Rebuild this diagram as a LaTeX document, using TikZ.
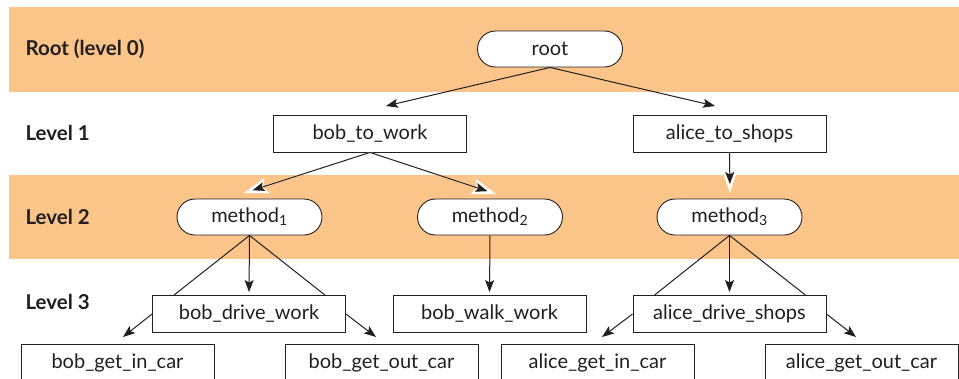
\documentclass[tikz,border=0pt]{standalone}
\usepackage{fontspec}
\setmainfont{Lato}
\usetikzlibrary{arrows.meta,shapes.misc,calc}
\definecolor{band}{RGB}{251,197,138}
\definecolor{ink}{RGB}{35,31,32}
\begin{document}
\begin{tikzpicture}[x=1pt,y=-1pt,
  every node/.style={text=ink,font=\fontsize{20}{22}\selectfont},
  tbox/.style={draw=ink,line width=0.9pt,fill=white,minimum width=193pt,minimum height=37pt,inner sep=0pt},
  pill/.style={rounded rectangle,draw=ink,line width=0.9pt,fill=white,minimum width=145pt,minimum height=36pt,inner sep=0pt},
  lvl/.style={anchor=west,font=\fontsize{20.5}{22}\selectfont\bfseries},
  arr/.style={draw=ink,line width=1pt,-{Stealth[length=12pt,width=9pt,inset=2.5pt]}},
  wunder/.style={draw=white,line width=1pt,-{Stealth[length=24pt,width=16pt,inset=4pt,white]}},
  ln/.style={draw=ink,line width=1pt}]
\useasboundingbox (0,0) rectangle (959,378);
\clip (0,0) rectangle (959,378);
\fill[white] (0,0) rectangle (959,378);
\fill[band] (9,7) rectangle (959,92);
\fill[band] (9,175) rectangle (959,259);
\node[lvl] (l0) at (22,49) {Root (level 0)};
\node[lvl] (l1) at (22,133) {Level 1};
\node[lvl] (l2) at (22,217) {Level 2};
\node[lvl] (l3) at (22,302) {Level 3};
\node[pill] (root) at (550,49) {root};
\node[tbox] (btw) at (370,133.5) {bob\_to\_work};
\node[tbox] (ats) at (729.5,133.5) {alice\_to\_shops};
\node[pill] (m1) at (249.5,217) {method\textsubscript{1}};
\node[pill] (m2) at (490,217) {method\textsubscript{2}};
\node[pill] (m3) at (729.5,217) {method\textsubscript{3}};
\node[tbox] (bdw) at (249,314) {bob\_drive\_work};
\node[tbox] (bww) at (489.5,314) {bob\_walk\_work};
\node[tbox] (ads) at (729.5,314) {alice\_drive\_shops};
\node[tbox] (bgi) at (117.5,362.5) {bob\_get\_in\_car};
\node[tbox] (bgo) at (381.5,362.5) {bob\_get\_out\_car};
\node[tbox] (agi) at (597.5,362.5) {alice\_get\_in\_car};
\node[tbox] (ago) at (861.5,362.5) {alice\_get\_out\_car};
\coordinate (t1) at (386,106);
\coordinate (t2) at (715,106);
\coordinate (t3) at (244,193);
\coordinate (t4) at (496,194);
\coordinate (t5) at (730,193);
\coordinate (t6) at (123,337);
\coordinate (t7) at (376,337);
\coordinate (t8) at (602,337);
\coordinate (t9) at (856,337);
\draw[arr] (root.south) -- (t1);
\draw[arr] (root.south) -- (t2);
\draw[wunder] (btw.south) -- (t3);
\draw[wunder] (btw.south) -- (t4);
\draw[wunder] (ats.south) -- (t5);
\draw[arr,shorten >=9pt] (btw.south) -- (t3);
\draw[arr,shorten >=9pt] (btw.south) -- (t4);
\draw[arr,shorten >=9pt] (ats.south) -- (t5);
\draw[ln] (m1.south) -- ($(bdw.north west)+(22,0)$);
\draw[ln] (m1.south) -- ($(bdw.north east)+(-21,0)$);
\draw[arr,shorten >=3pt] (m1.south) -- (bdw.north);
\draw[arr,shorten >=3pt] (m2.south) -- (bww.north);
\draw[ln] (m3.south) -- ($(ads.north west)+(22,0)$);
\draw[ln] (m3.south) -- ($(ads.north east)+(-21,0)$);
\draw[arr,shorten >=3pt] (m3.south) -- (ads.north);
\draw[arr] (bdw.west) -- (t6);
\draw[arr] (bdw.east) -- (t7);
\draw[arr] (ads.west) -- (t8);
\draw[arr] (ads.east) -- (t9);
\end{tikzpicture}
\end{document}
